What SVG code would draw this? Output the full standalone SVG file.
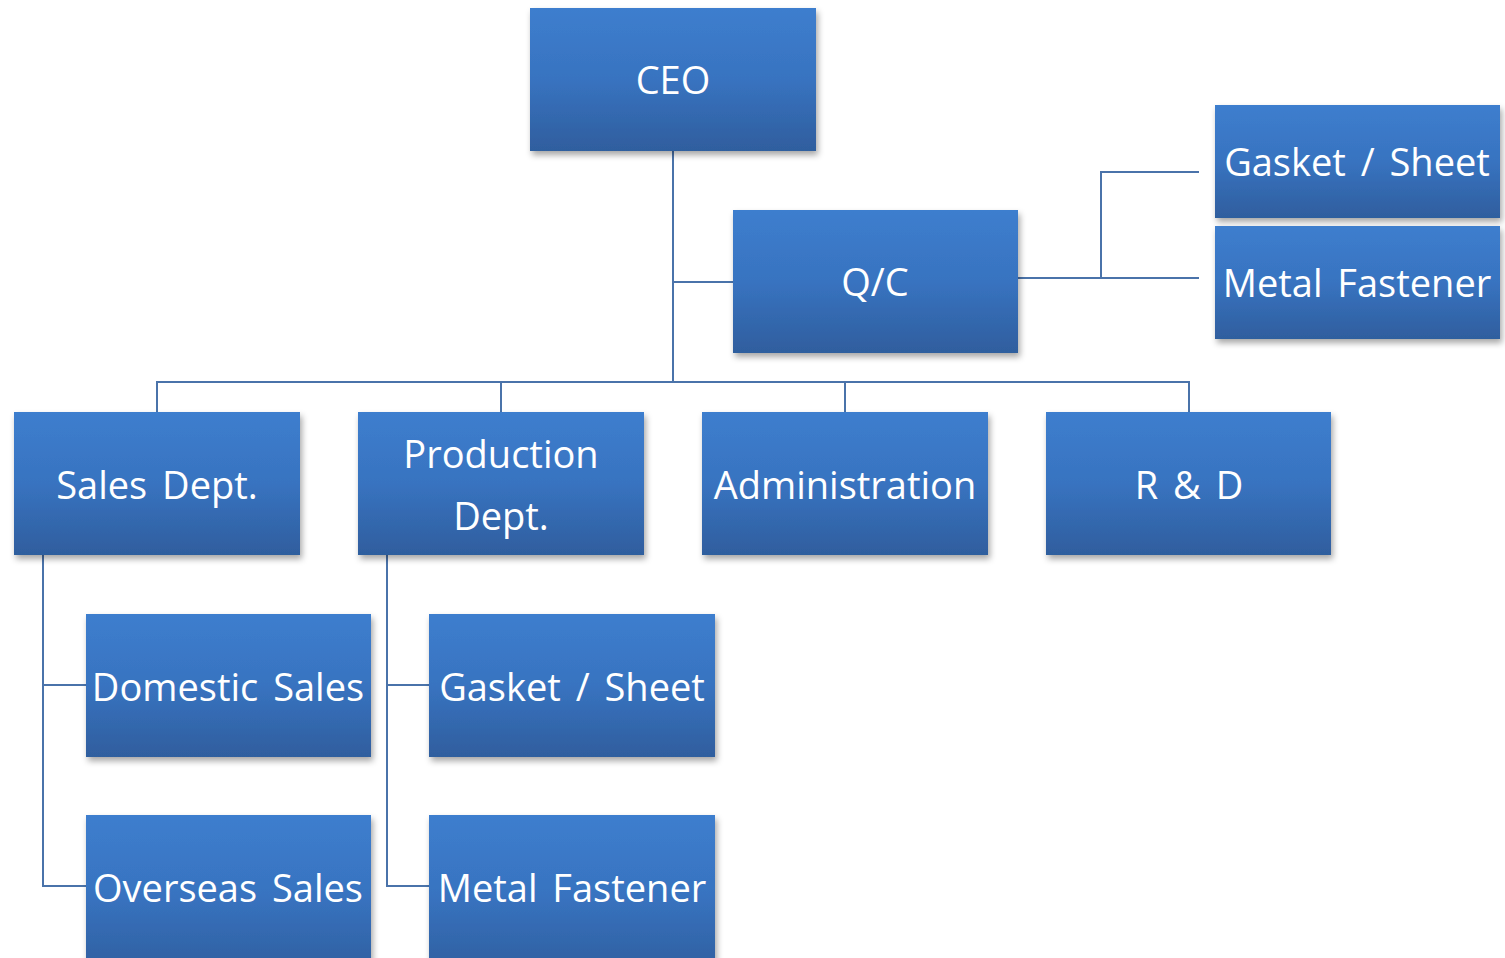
<svg xmlns="http://www.w3.org/2000/svg" width="1505" height="958" viewBox="0 0 1505 958">
<defs>
<linearGradient id="g" x1="0" y1="0" x2="0" y2="1">
<stop offset="0" stop-color="#3d7ece"/>
<stop offset="0.5" stop-color="#3873c0"/>
<stop offset="1" stop-color="#2f5e9e"/>
</linearGradient>
<filter id="sh" x="-10%" y="-10%" width="125%" height="130%">
<feDropShadow dx="2" dy="4" stdDeviation="3" flood-color="#000" flood-opacity="0.35"/>
</filter>
</defs>
<style>
.box{fill:url(#g);filter:url(#sh)}
.t{fill:#fff;font-family:"Open Sans","Noto Sans","DejaVu Sans",sans-serif;font-size:38px;word-spacing:5px;text-anchor:middle}
.c{fill:none;stroke:#4a73aa;stroke-width:2}
</style>
<rect width="1505" height="958" fill="#fff"/>
<g id="connectors">
<path class="c" d="M673 151V382M673 282H733M157 412V382H1189V412M501 382V412M845 382V412"/>
<path class="c" d="M1003 278H1199M1101 278V172H1199"/>
<path class="c" d="M43 555V886H86M43 685H86"/>
<path class="c" d="M387 555V886H429M387 685H429"/>
</g>
<g id="ceo"><rect class="box" x="530" y="8" width="286" height="143"/><text class="t" x="673" y="94">CEO</text></g>
<g id="qc"><rect class="box" x="733" y="210" width="285" height="143"/><text class="t" x="875" y="296">Q/C</text></g>
<g id="qc-gasket"><rect class="box" x="1215" y="105" width="285" height="113"/><text class="t" x="1357" y="176">Gasket / Sheet</text></g>
<g id="qc-metal"><rect class="box" x="1215" y="226" width="285" height="113"/><text class="t" x="1357" y="297">Metal Fastener</text></g>
<g id="sales"><rect class="box" x="14" y="412" width="286" height="143"/><text class="t" x="157" y="499">Sales Dept.</text></g>
<g id="production"><rect class="box" x="358" y="412" width="286" height="143"/><text class="t" x="501" y="468">Production</text><text class="t" x="501" y="530">Dept.</text></g>
<g id="admin"><rect class="box" x="702" y="412" width="286" height="143"/><text class="t" x="845" y="499">Administration</text></g>
<g id="rd"><rect class="box" x="1046" y="412" width="285" height="143"/><text class="t" x="1189" y="499">R &amp; D</text></g>
<g id="domestic"><rect class="box" x="86" y="614" width="285" height="143"/><text class="t" x="228" y="701">Domestic Sales</text></g>
<g id="overseas"><rect class="box" x="86" y="815" width="285" height="160"/><text class="t" x="228" y="902">Overseas Sales</text></g>
<g id="prod-gasket"><rect class="box" x="429" y="614" width="286" height="143"/><text class="t" x="572" y="701">Gasket / Sheet</text></g>
<g id="prod-metal"><rect class="box" x="429" y="815" width="286" height="160"/><text class="t" x="572" y="902">Metal Fastener</text></g>
</svg>
